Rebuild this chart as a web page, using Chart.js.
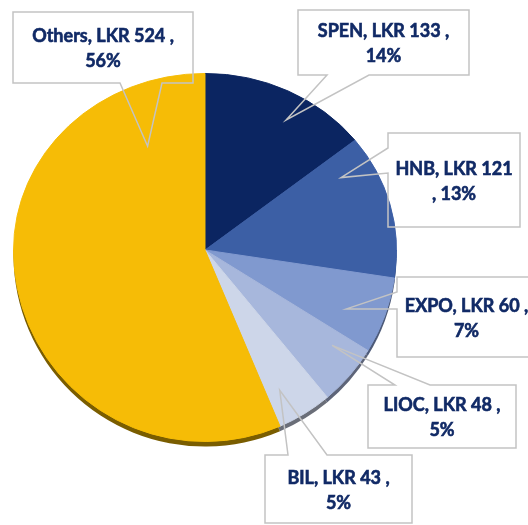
<!DOCTYPE html>
<html>
<head>
<meta charset="utf-8">
<script src="https://cdn.jsdelivr.net/npm/chart.js@4.4.1/dist/chart.umd.min.js"></script>
<style>
  html, body { margin: 0; padding: 0; background: #fff; }
  #pie { display: block; }
</style>
</head>
<body>
<canvas id="pie" width="528" height="525"></canvas>
<script>
// chart data
const companies = ['SPEN', 'HNB', 'EXPO', 'LIOC', 'BIL', 'Others']
const amounts = [133, 121, 60, 48, 43, 524]
const shares = ['14%', '13%', '7%', '5%', '5%', '56%']

const sliceColors = ['#0b2561', '#3c5fa5', '#8099cf', '#a7b7dc', '#cdd6e9', '#f6bc06']
const rimColors = ['#06112e', '#263b68', '#4d5a78', '#5d6478', '#6a6e78', '#7a5d00']

// callout boxes: x, y, w, h, pointer side, pointer base points, tip (fraction along slice, fraction of radius), words on first line
const callouts = [
    { box: [298, 10, 171, 65], side: 'bottom', base: [327, 369], tip: [0.58, 0.85], split: 4 },
    { box: [388, 133, 132, 94], side: 'left', base: [148, 173], tip: [0.18, 0.82], split: 3 },
    { box: [397, 277, 139, 80], side: 'left', base: [292, 309], tip: [0.61, 0.80], split: 4 },
    { box: [368, 385, 148, 63], side: 'top', base: [395, 430], tip: [0.28, 0.83], split: 4 },
    { box: [265, 455, 147, 68], side: 'top', base: [288, 327], tip: [0.70, 0.83], split: 4 },
    { box: [13, 12, 180, 71], side: 'bottom', base: [120, 162], tip: [0.867, 0.66], split: 4 }
]

const topSquash = 177 / 192   // upper half of the pie is seen a bit flatter
const rimDepth = 5

const canvas = document.getElementById('pie')
const ctx = canvas.getContext('2d')

function squashY(y, cy) {
    return y < cy ? cy + (y - cy) * topSquash : y
}

const tiltPlugin = {
    id: 'tilt',
    beforeDatasetsDraw(chart) {
        const c = chart.ctx
        const arcs = chart.getDatasetMeta(0).data
        const cx = arcs[0].x, cy = arcs[0].y
        c.save()
        c.beginPath()
        c.rect(0, cy, chart.width, chart.height - cy)
        c.clip()
        arcs.forEach((arc, i) => {
            c.beginPath()
            c.moveTo(cx, cy + rimDepth)
            c.arc(cx, cy + rimDepth, arc.outerRadius, arc.startAngle, arc.endAngle)
            c.closePath()
            c.fillStyle = rimColors[i]
            c.fill()
        })
    },
    afterDatasetsDraw(chart) {
        const c = chart.ctx
        const meta = chart.getDatasetMeta(0)
        const cx = meta.data[0].x, cy = meta.data[0].y
        c.restore()
        c.save()
        c.beginPath()
        c.rect(0, 0, chart.width, cy + 1)
        c.clip()
        c.translate(cx, cy)
        c.scale(1, topSquash)
        c.translate(-cx, -cy)
        meta.controller.draw()
        c.restore()
    }
}

const calloutPlugin = {
    id: 'callouts',
    afterDraw(chart) {
        const c = chart.ctx
        const arcs = chart.getDatasetMeta(0).data
        arcs.forEach((arc, i) => {
            const co = callouts[i]
            const [bx, by, bw, bh] = co.box
            const a = arc.startAngle + co.tip[0] * (arc.endAngle - arc.startAngle)
            const r = co.tip[1] * arc.outerRadius
            const tx = arc.x + r * Math.cos(a)
            const ty = squashY(arc.y + r * Math.sin(a), arc.y)

            const tl = [bx, by], tr = [bx + bw, by], br = [bx + bw, by + bh], bl = [bx, by + bh]
            let pts
            const b = co.base
            if (co.side === 'top') {
                pts = [tl, [Math.min(...b), by], [tx, ty], [Math.max(...b), by], tr, br, bl]
            } else if (co.side === 'bottom') {
                pts = [tl, tr, br, [Math.max(...b), by + bh], [tx, ty], [Math.min(...b), by + bh], bl]
            } else {
                pts = [tl, tr, br, bl, [bx, Math.max(...b)], [tx, ty], [bx, Math.min(...b)]]
            }
            c.save()
            c.beginPath()
            c.moveTo(pts[0][0], pts[0][1])
            pts.slice(1).forEach(p => c.lineTo(p[0], p[1]))
            c.closePath()
            c.strokeStyle = '#c3c3c3'
            c.lineWidth = 1.5
            c.lineJoin = 'miter'
            c.stroke()

            const words = `${companies[i]}, LKR ${amounts[i]} , ${shares[i]}`.split(' ')
            const line1 = words.slice(0, co.split).join(' ')
            const line2 = words.slice(co.split).join(' ')
            const mx = bx + bw / 2
            const my = by + bh / 2 + 1.5
            c.fillStyle = '#112a66'
            c.strokeStyle = '#112a66'
            c.lineWidth = 0.6
            c.font = 'bold 18px Lato'
            c.textAlign = 'center'
            c.textBaseline = 'middle'
            c.fillText(line1, mx, my - 12.5)
            c.strokeText(line1, mx, my - 12.5)
            c.fillText(line2, mx, my + 12.5)
            c.strokeText(line2, mx, my + 12.5)
            c.restore()
        })
    }
}

const pieChart = new Chart(ctx, {
    type: 'pie',
    data: {
        labels: companies,
        datasets: [{
            data: amounts,
            backgroundColor: sliceColors,
            borderColor: sliceColors,
            borderWidth: 1
        }]
    },
    options: {
        responsive: false,
        animation: false,
        layout: { padding: { left: 13, right: 131, top: 58, bottom: 83 } },
        plugins: {
            legend: { display: false },
            tooltip: { enabled: false }
        }
    },
    plugins: [tiltPlugin, calloutPlugin]
})
</script>
</body>
</html>
